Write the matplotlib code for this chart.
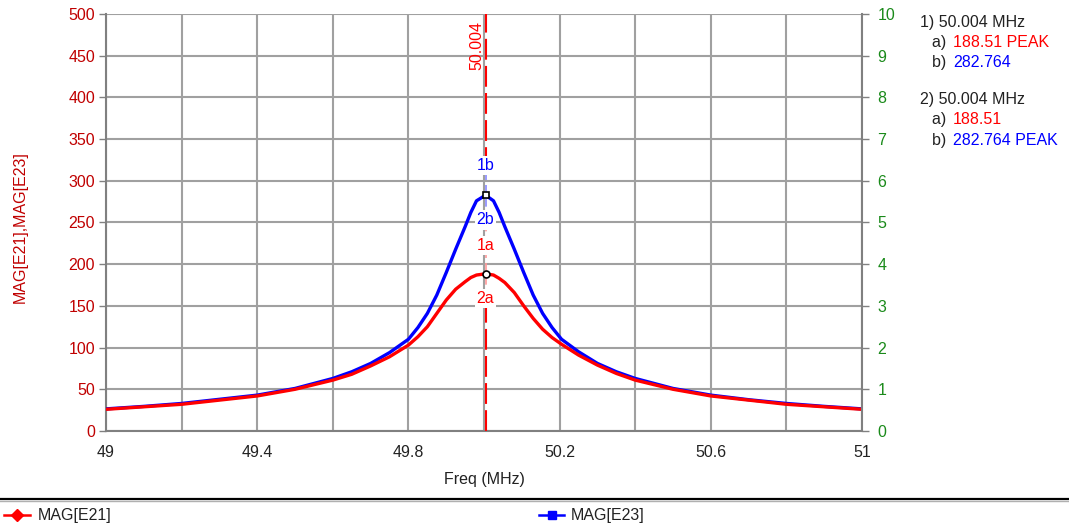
import numpy as np
import matplotlib
matplotlib.use("Agg")
import matplotlib.pyplot as plt
from matplotlib.lines import Line2D

plt.rcParams['font.family'] = ['Liberation Sans', 'DejaVu Sans']

#----------------------------------------------------------
# data
freq = [49.0, 49.1, 49.2, 49.3, 49.4, 49.5, 49.6, 49.65, 49.7, 49.75, 49.8,
        49.825, 49.85, 49.875, 49.9, 49.925, 49.95, 49.965, 49.98, 50.004,
        50.025, 50.04, 50.055, 50.08, 50.105, 50.13, 50.155, 50.18, 50.205,
        50.25, 50.3, 50.35, 50.4, 50.5, 50.6, 50.7, 50.8, 50.9, 51.0]
mag_e21 = [26, 29, 32, 37, 42, 50, 61, 68, 78, 89, 103,
           113, 125, 141, 157, 170, 179, 184, 187, 188.51,
           187, 183, 178, 166, 150, 135, 122, 112, 104,
           91, 79, 69, 61, 50, 42, 37, 32, 29, 26]
mag_e23 = [26.5, 29.5, 33, 38, 43, 51, 63, 71, 81, 94, 110,
           124, 141, 163, 190, 218, 245, 262, 276, 282.764,
           276, 262, 245, 218, 190, 163, 141, 124, 110,
           95, 81, 71, 63, 51, 43, 37.5, 33, 29.5, 26.5]
marker_freq = 50.004
x_ticks = [49.0, 49.2, 49.4, 49.6, 49.8, 50.0, 50.2, 50.4, 50.6, 50.8, 51.0]
y_ticks = list(range(0, 501, 50))
y2_ticks = list(range(0, 11))

RED = '#ff0000'
BLUE = '#0000ff'
DARKRED = '#c00000'
GREEN = '#1a8a1a'
GRID = '#a0a0a0'
FS = 11.5


def main():
    fig = plt.figure(figsize=(10.69, 5.27), dpi=100)
    ax = fig.add_axes([0.0992, 0.1822, 0.7072, 0.7912])
    ax.set_xlim(49, 51)
    ax.set_ylim(0, 500)

    ax.set_xticks(x_ticks)
    ax.set_xticklabels([f'{t:g}' if i % 2 == 0 else '' for i, t in enumerate(x_ticks)])
    ax.set_yticks(y_ticks)
    ax.grid(True, color=GRID, linewidth=1.5)
    ax.set_axisbelow(True)
    ax.tick_params(axis='x', length=0, pad=10, labelsize=FS, labelcolor='#222222')
    ax.tick_params(axis='y', length=5, width=1, color='#808080', pad=3,
                   labelsize=FS, labelcolor=DARKRED)
    for s in ['top', 'right']:
        ax.spines[s].set_visible(False)
    for s in ['left', 'bottom']:
        ax.spines[s].set_color('#808080')
        ax.spines[s].set_linewidth(1.5)

    ax.set_xlabel('Freq (MHz)', fontsize=FS, color='#222222', labelpad=9)
    ax.text(-0.114, 0.49, 'MAG[E21],MAG[E23]', transform=ax.transAxes,
            rotation=90, fontsize=FS, color=DARKRED, ha='center', va='center')

    ax2 = ax.twinx()
    ax2.set_ylim(0, 10)
    ax2.set_yticks(y2_ticks)
    ax2.tick_params(axis='y', length=5, width=1, color='#808080', pad=6,
                    labelsize=FS, labelcolor=GREEN)
    for s in ['top', 'left', 'bottom']:
        ax2.spines[s].set_visible(False)
    ax2.spines['right'].set_color('#808080')
    ax2.spines['right'].set_linewidth(1.5)

    # curves
    ax.plot(freq, mag_e23, color=BLUE, linewidth=2.4, zorder=3)
    ax.plot(freq, mag_e21, color=RED, linewidth=2.4, zorder=4)

    # marker line
    ax.plot([marker_freq, marker_freq], [0, 160], color=RED, linewidth=1.5,
            dashes=(10, 3), zorder=5)
    ax.plot([marker_freq, marker_freq], [315, 500], color=RED, linewidth=1.5,
            dashes=(10, 3), zorder=5)
    ax.plot([marker_freq, marker_freq], [253, 315], color='#8888ff', linewidth=1.2,
            dashes=(5, 3), zorder=5)
    ax.plot([marker_freq, marker_freq], [160, 253], color='#ff9999', linewidth=1.2,
            dashes=(5, 3), zorder=5)
    ax.text(marker_freq - 0.024, 462, '50.004', rotation=90, color=RED,
            fontsize=FS, ha='center', va='center', zorder=6)

    box = dict(facecolor='white', edgecolor='none', pad=1.5)
    for txt, yv, col in [('1b', 318, BLUE), ('2b', 253, BLUE),
                         ('1a', 222, RED), ('2a', 159, RED)]:
        ax.text(marker_freq, yv, txt, color=col, fontsize=FS, ha='center',
                va='center', bbox=box, zorder=6)

    ax.plot([marker_freq], [282.764], marker='s', markersize=5, mfc='white',
            mec='black', mew=1.2, zorder=7)
    ax.plot([marker_freq], [188.51], marker='o', markersize=5, mfc='white',
            mec='black', mew=1.2, zorder=7)

    # marker readout on the right
    rows = [
        (0.861, 0.958, [('1) 50.004 MHz', '#222222')]),
        (0.872, 0.920, [('a) ', '#222222'), ('188.51 PEAK', RED)]),
        (0.872, 0.882, [('b) ', '#222222'), ('282.764', BLUE)]),
        (0.861, 0.812, [('2) 50.004 MHz', '#222222')]),
        (0.872, 0.774, [('a) ', '#222222'), ('188.51', RED)]),
        (0.872, 0.734, [('b) ', '#222222'), ('282.764 PEAK', BLUE)]),
    ]
    for x0, y0, parts in rows:
        for i, (s, col) in enumerate(parts):
            fig.text(x0 + (0.0196 if i else 0), y0, s, color=col, fontsize=FS,
                     va='center')

    # bottom legend strip
    fig.add_artist(Line2D([0, 1], [0.054, 0.054], transform=fig.transFigure,
                          color='black', linewidth=1.6))
    fig.add_artist(Line2D([0, 1], [0.049, 0.049], transform=fig.transFigure,
                          color='#b0b0b0', linewidth=1.0))
    fig.add_artist(Line2D([0.004, 0.016, 0.028], [0.022, 0.022, 0.022],
                          transform=fig.transFigure, color=RED, linewidth=1.8,
                          marker='D', markersize=6, markevery=[1]))
    fig.text(0.035, 0.022, 'MAG[E21]', fontsize=FS, color='#222222', va='center')
    fig.add_artist(Line2D([0.504, 0.516, 0.528], [0.022, 0.022, 0.022],
                          transform=fig.transFigure, color=BLUE, linewidth=1.8,
                          marker='s', markersize=6, markevery=[1]))
    fig.text(0.534, 0.022, 'MAG[E23]', fontsize=FS, color='#222222', va='center')

    fig.savefig('out.png', dpi=100)


#----------------------------------------------------------
if __name__ == '__main__':
    main()
